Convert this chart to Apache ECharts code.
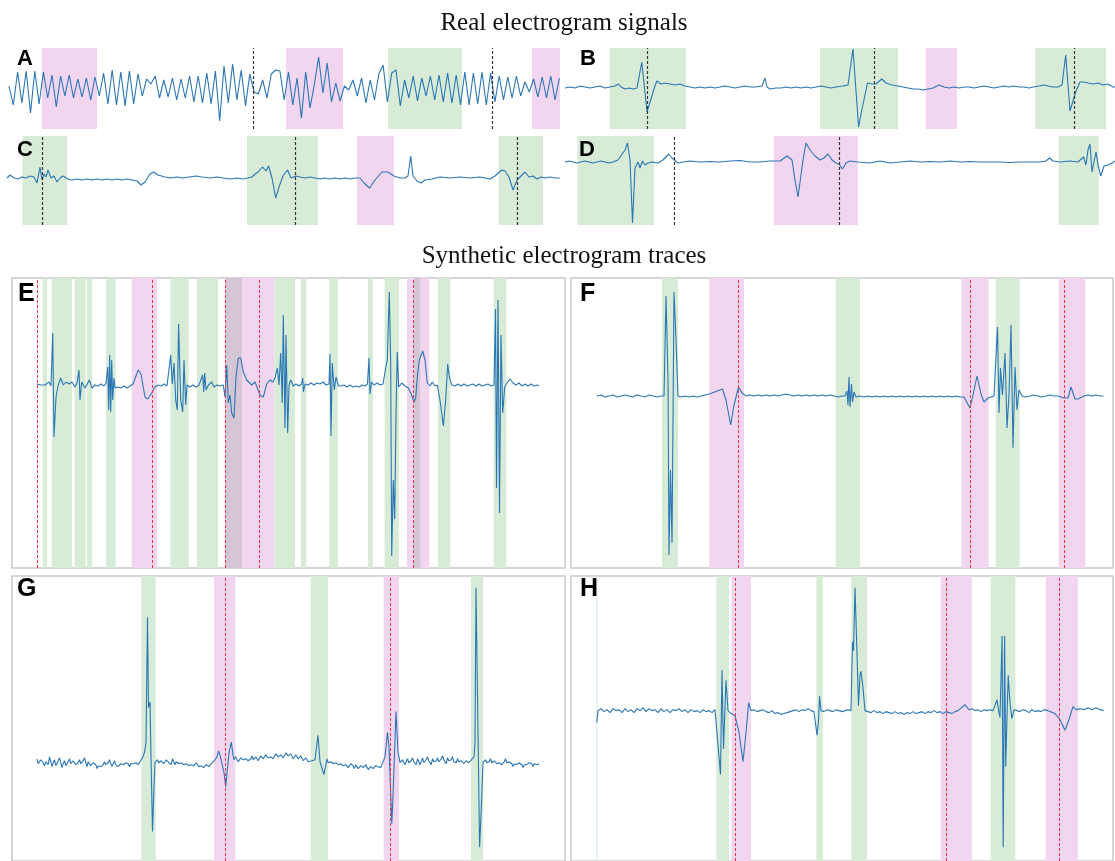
<!DOCTYPE html>
<html><head><meta charset="utf-8">
<script src="https://cdn.jsdelivr.net/npm/echarts/dist/echarts.min.js"></script>
<style>html,body{margin:0;padding:0;background:#fff}#c{width:1115px;height:861px}</style>
</head><body><div id="c"></div>
<script>
// ---------- DATA (time offsets in samples, amplitude in arbitrary units) ----------
const titleTop = 'Real electrogram signals';
const titleBottom = 'Synthetic electrogram traces';
const panelLetters = ['A','B','C','D','E','F','G','H'];

// Panel A: uniformly sampled extrema
const sigAStart = 1, sigAStep = 4.3;
const sigA = [2,-17,16,-15,17,-25,17,-16,16,-10,13,-19,12,-8,13,-10,9,-9,10,-12,11,-8,
 15,-16,18,-17,16,-18,17,-16,14,-8,9,4,12,-10,8,-9,10,-12,9,-10,12,-14,12,-15,15,-16,17,-33,
 22,-15,24,-12,18,-18,14,-4,-6,8,-10,14,18,17,-12,16,-17,10,-30,16,-20,3,31,-5,25,-14,5,-13,
 2,-2,8,-8,10,-15,8,-12,14,23,-14,15,18,-18,8,-10,12,-13,10,-8,12,-12,13,-14,15,-15,13,-17,
 16,-17,15,-16,16,-17,15,-14,12,-12,11,-10,12,-8,6,-4,9,-9,11,-10,12,-12,10];
const bandsA_green = [[380,454]];
const bandsA_pink = [[34,89],[278,335],[524,552]];
const dashA = [245.6,484];

const sigB = [[2,-1],[7,0],[12,-1],[17,1],[22,0],[27,-1],[32,0],[37,1],[42,-1],[47,0],[52,1],[55.6,3],[58,0],[62,-2],[66,-1],[70,-2],[74,-1],[76,1],[78.8,25],[84,-25],[88,-12],[90,-5],[93.8,6],[98,3],[102,4],[107,3],[112,2],[117,3],[122,1],[127,0],[132,-1],[137,0],[142,-1],[147,0],[152,-1],[157,0],[162,1],[167,0],[172,-1],[177,0],[182,1],[187,0],[192,0],[199,1],[202,9],[204,0],[207,-2],[209,-3],[213,-1],[218,-1],[223,0],[228,-1],[233,0],[238,-1],[243,0],[248,-1],[253,0],[258,1],[263,0],[268,-1],[273,0],[280,1],[285,2],[290,38],[295.6,-40],[299,-22],[302,-8],[304.5,4],[309,3],[313,3],[318.8,8],[323,4],[329,2],[335,1],[340,0],[345,-1],[350,-2],[355,-2],[360,-3],[365,-2],[370,-1],[376,2],[381,0],[386,-1],[391,0],[396,-1],[401,0],[406,0],[411,-1],[416,0],[421,1],[426,0],[431,-1],[436,0],[441,1],[446,0],[451,1],[456,0],[461,0],[466,-1],[470,0],[476,1],[481,2],[485,1],[490,0],[495,0],[499,2],[502.7,32],[507,-24],[510,-14],[513,-4],[517,5],[521,5],[525,4],[530,3],[535,4],[540,2],[545,3],[550,0],[552,0]];
const bandsB_green = [[46.6,123],[257,335],[472,543]];
const bandsB_pink = [[362.7,394]];
const dashB = [84,311.6,511];

const sigC = [[2,0],[5,3],[9,0],[13,-1],[17,1],[21,0],[25,2],[29,1],[32,-5],[35,11],[37,-2],[39,4],[41,1],[43,8],[46,0],[49,2],[52,-4],[55,0],[58,2],[60,4],[63,-1],[67,-2],[72,-1],[77,-2],[82,-1],[87,-2],[92,-1],[97,-2],[102,-1],[107,-2],[112,-1],[117,-2],[122,-1],[127,-2],[132,-3],[136,-7],[140,-4],[145,4],[148.6,6],[153,3],[160,1],[166,0],[172,1],[178,0],[184,1],[191,2],[197,1],[205,0],[212,1],[218,0],[225,-1],[232,0],[238,-1],[243,0],[247,1],[250,4],[253,6],[257.5,11],[261,7],[263.6,12],[267,0],[270.7,-20],[274,-9],[278,2],[282.5,8],[286,0],[291,2],[295,1],[300,0],[305,1],[310,0],[315,-1],[320,0],[325,-1],[330,0],[335,-1],[340,0],[345,-1],[350,0],[355,0],[359,-5],[364.6,-10],[370,-2],[377,6],[383,6],[389,2],[395,0],[400,0],[403,2],[405.7,22],[408,2],[412,-3],[416,-5],[420,-2],[427,-1],[435,1],[445,0],[455,1],[465,0],[475,1],[485,-1],[490,2],[496.8,8],[500,7],[504,1],[508,-12],[512,-2],[516,2],[520,6],[524,1],[528,2],[532,-1],[536,1],[540,0],[545,1],[550,0],[555,0]];
const bandsC_green = [[17.5,62],[242,313],[493.6,538]];
const bandsC_pink = [[352,389]];
const dashC = [36.8,290.4,512.5];

const sigD = [[2,0],[6,1],[10,0],[14,-1],[18,0],[22,1],[26,0],[30,-1],[34,0],[38,1],[42,0],[46,-1],[50,0],[55,2],[57,1],[59.9,9],[62,12],[64.5,19],[67,2],[69.5,-61],[72,-6],[73,-4],[75,0],[77,-6],[79.5,1],[82,-3],[85,-1],[89,0],[95,-1],[100,2],[105.6,8],[109,4],[115,-1],[120,0],[127,1],[137,0],[147,0.5],[157,0],[167,1],[177,1.5],[187,0],[197,0],[207,1],[217,1],[224,6],[229,2],[232,-18],[235,-35],[238,-13],[240,2],[243,19],[247,12],[252,6],[257,2],[261,4],[265,8],[269,2],[273,-1],[276,-2],[279.5,-7],[283,-1],[287,1],[295,0],[307,-1],[317,1],[327,-1],[337,0],[347,1],[357,0],[367,0.5],[377,0],[387,1],[397,0],[407,0.5],[417,0],[427,0],[437,0],[447,-0.5],[457,0],[467,0],[477,0],[483,1],[486.6,4],[490,1],[497,0],[507,1],[515,0],[520.6,5],[523,-3],[525,12],[527,18],[529,-10],[531,0],[533,10],[535,-3],[537.7,-14],[541,-4],[545,-3],[549,-1],[552,1]];
const bandsD_green = [[14.5,91],[495.6,535.6]];
const bandsD_pink = [[210.6,294.9]];
const dashD = [111.6,276.6];

const sigE = [[25,0],[27,1],[29,-1],[31,1],[33,-1],[35,0],[37,2],[39,-2],[40.7,51],[42,-53],[44,-13],[46.3,-1],[48.7,6],[51.3,-1],[54,2],[57,0],[60,2],[63,-3],[65,1],[67,14],[68,-16],[69.7,2],[73,-4],[77.3,4],[80,-4],[83,-1],[86,-2],[89,0],[92,-2],[94,1],[95.7,17],[96.7,-26],[97.7,29],[98.7,-28],[99.7,24],[100.7,-16],[102,6],[103,-4],[106,-3],[109,-4],[112,-2],[115,-4],[118,-2],[121,0],[124,8],[126.3,14],[129,10],[133,-13],[135.7,-15],[139.7,-9],[143,-3],[146,-1],[149,-2],[152,0],[155,-2],[157,0],[158.7,29],[160.3,0],[162,21],[163.7,-16],[165.3,-26],[166.6,60],[168.7,-16],[170.7,-28],[172,24],[173.7,-21],[175,-1],[178,-3],[181,-1],[184,-3],[187,-1],[189,-2],[190.7,9],[191.7,-8],[192.7,11],[194,-6],[196.5,-1],[199.7,2],[202,-3],[205,-1],[208,-2],[211.3,-1],[213,-13],[214.7,19],[216.3,-19],[218,-11],[219.7,-29],[222,-34],[224,7],[226.3,26],[228.7,26],[231.3,12],[234.7,4],[239.7,-1],[243,2],[248,-11],[251.3,-13],[254.7,0],[258,4],[260.7,2],[263,6],[265.3,16],[267,-1],[268.7,31],[270.3,-19],[271.3,69],[273,-44],[274,49],[275.7,-49],[277,-1],[278.7,4],[281.3,-2],[284,0],[287,-2],[289.5,0],[290.7,6],[291.5,-8],[293,0],[296,-1],[299,1],[302,-1],[305,1],[308,0],[311,2],[314,-1],[317,0],[318,30],[319,-52],[320.3,21],[322.3,-6],[324,7],[326.5,-2],[329,-2],[332,-1],[335,-3],[338,-1],[341,-3],[344,-2],[347,-3],[350,-1],[353,-2],[355.5,0],[357,26],[358,-10],[359.5,2],[362,-1],[365,1],[368,-1],[371,0],[373.7,16],[375.3,24],[377.3,92],[378.7,21],[379.7,-172],[381.3,-96],[382.7,-135],[384,-29],[385.3,32],[386.7,-3],[389.7,1],[393,-2],[396.3,-4],[399.7,-11],[402,-18],[403.7,-14],[405.3,7],[407.3,24],[410.7,33],[413,24],[415.3,1],[418,-2],[420.3,2],[423,-2],[425.3,-1],[428,-16],[431.3,-42],[433.7,-16],[435.7,20],[437.3,7],[439.7,-1],[443,-2],[446,0],[449,-2],[452,0],[455,-2],[458,-1],[461,0],[464,-2],[467,0],[470,-2],[473,-1],[476,0],[479,-2],[482,-1],[483.5,75],[484.5,-104],[486,84],[487.5,-129],[489,49],[490.7,-29],[492.7,-3],[495,1],[498,5],[501,1],[504,-1],[507,1],[510,-2],[513,0],[516,-2],[519,0],[522,-2],[525,-1],[527,-2]];
const bandsE_green = [[30.9,35.1],[39.8,60.1],[62.6,73.7],[75,80.1],[94,103.7],[158.4,176.6],[185,206],[213,230],[262.3,283],[289,294.4],[317.3,325.9],[355.9,360.9],[372.6,386.9],[402,408.7],[425.9,438.4],[481.6,494.4]];
const bandsE_pink = [[119.8,145],[213,262.3],[395,417.3]];
const dashE = [25,140.5,213,247.6,401.6];

const sigF = [[26,0],[30,1],[34,-1],[38,0],[42,1],[46,-1],[50,0],[54,1],[58,0],[62,-1],[66,1],[70,0],[74,-1],[78,1],[82,0],[86,-1],[90,0],[93,0],[95,100],[97,16],[98,-159],[99.5,-74],[101,-147],[102,-24],[103,104],[105,56],[107,0],[110,-1],[114,0],[118,-1],[122,0],[126,-1],[130,0],[134,1],[138,2],[141,3],[146,5],[151.5,7],[155,-4],[159.7,-29],[163,-9],[167.6,9],[171,3],[175,0],[179,1],[183,0],[187,1],[191,0],[195,1],[199,0],[203,1],[207,0],[211,1],[215,2],[219,1],[223,0],[227,1],[231,0],[235,1],[239,0],[243,1],[247,0],[251,1],[255,0],[259,1],[263,0],[267,-1],[271,0],[274,0],[276,5],[277,-9],[278,19],[279,-11],[280.5,12],[281.5,-6],[283,4],[285,-1],[289,0],[293,-1],[297,0],[301,-1],[305,0],[309,-1],[313,0],[317,-1],[321,0],[325,-1],[329,0],[333,-1],[337,0],[341,-1],[345,0],[349,-1],[353,0],[357,-1],[361,0],[365,-1],[369,0],[373,-1],[377,0],[381,-1],[385,0],[389,-1],[393,-1],[395,-2],[399,-12],[402,1],[406,20],[410,2],[413,-6],[417,-2],[423,0],[426.5,69],[428,-17],[429.5,28],[431.5,1],[434,43],[436,-32],[438,1],[440,71],[442,-52],[444,29],[446,-14],[448,6],[451,0],[455,-1],[459,0],[463,1],[467,0],[471,-1],[475,0],[479,1],[483,0],[487,0],[493,-2],[497,-2],[500,9],[504,-3],[507,-3],[509,-1],[513,0],[517,1],[521,0],[525,1],[529,0],[532.6,0]];
const bandsF_green = [[91,107],[264.7,289],[424.7,448.6]];
const bandsF_pink = [[138.3,173],[390.4,417.6],[487.6,514.4]];
const dashF = [167.6,399.7,493.6];

const sigG = [[25,4],[26.2,-1],[27.5,-2],[28.8,3],[30,5],[31.2,0],[32.5,-3],[33.8,1],[35,2],[36.2,-2],[37.5,6],[38.8,1],[40,-4],[41.2,0],[42.5,3],[43.8,-3],[45,-1],[46.2,2],[47.5,5],[48.8,0],[50,-5],[51.2,-1],[52.5,2],[53.8,-3],[55,-2],[56.2,1],[57.5,4],[58.8,-1],[60,-3],[61.2,2],[62.5,1],[63.8,-2],[65,-4],[66.2,0],[67.5,3],[68.8,-1],[70,-2],[71.2,2],[72.5,5],[73.8,0],[75,-4],[76.2,1],[77.5,0],[78.8,-3],[80,-5],[81.2,0],[82.5,2],[83.8,-2],[85,-6],[86.2,-3],[87.5,-1],[88.8,-4],[90,-5],[91.2,-2],[92.5,1],[93.8,-2],[95,-3],[96.2,0],[97.5,3],[98.8,-1],[100,-4],[101.2,-1],[102.5,2],[103.8,-2],[105,-2],[106.2,-4],[107.5,-5],[108.8,-1],[110,1],[111.2,-2],[112.5,-3],[113.8,0],[115,2],[116.2,-1],[117.5,-4],[118.8,-1],[120,1],[121.2,-1],[122.5,-2],[123.8,0],[125,2],[126.2,-2],[127.5,-1],[131,6],[132.6,11],[134,21],[135.5,148],[136.5,56],[138,62],[139,6],[140.5,-70],[142,-24],[143,0],[144.2,-2],[145.5,3],[146.8,0],[148,-1],[149.2,2],[150.5,4],[151.8,-1],[153,0],[154.2,3],[155.5,5],[156.8,0],[158,1],[159.2,-2],[160.5,4],[161.8,1],[163,-2],[164.2,1],[165.5,3],[166.8,-1],[168,-3],[169.2,0],[170.5,2],[171.8,-2],[173,-4],[174.2,-1],[175.5,1],[176.8,-3],[178,-5],[179.2,-2],[180.5,0],[181.8,-3],[183,-4],[184.2,0],[185.5,-1],[186.8,-4],[188,-6],[189.2,-3],[190.5,-2],[191.8,-5],[193,-5],[194.2,-2],[195.5,-1],[196.8,-4],[198,-4],[199.2,-1],[200.5,0],[203,3],[205,6],[206.6,12],[208,8],[210,6],[212,-10],[213.7,-25],[215.5,-5],[217,10],[219.4,21],[221,8],[222,3],[223.5,6],[225,5],[226.2,1],[227.5,2],[228.8,5],[230,6],[231.2,3],[232.5,1],[233.8,4],[235,5],[236.2,2],[237.5,0],[238.8,4],[240,7],[241.2,3],[242.5,2],[243.8,6],[245,6],[246.2,2],[247.5,3],[248.8,7],[250,8],[251.2,4],[252.5,4],[253.8,8],[255,9],[256.2,5],[257.5,3],[258.8,6],[260,7],[261.2,4],[262.5,5],[263.8,9],[265,10],[266.2,6],[267.5,4],[268.8,8],[270,9],[271.2,5],[272.5,6],[273.8,10],[275,11],[276.2,7],[277.5,5],[278.8,9],[280,8],[281.2,4],[282.5,4],[283.8,8],[285,7],[286.2,4],[287.5,3],[288.8,7],[290,6],[291.2,2],[292.5,1],[293.8,5],[295,4],[296.2,1],[297.5,0],[300,2],[303,3],[306,28],[308,1],[312,-12],[315,4],[316.2,0],[317.5,-2],[318.8,1],[320,3],[321.2,-1],[322.5,-3],[323.8,0],[325,1],[326.2,-2],[327.5,-4],[328.8,-1],[330,0],[331.2,-3],[332.5,-5],[333.8,-2],[335,-1],[336.2,-5],[337.5,-4],[338.8,-1],[340,1],[341.2,-3],[342.5,-6],[343.8,-2],[345,-3],[346.2,-6],[347.5,-7],[348.8,-3],[350,-2],[351.2,-5],[352.5,-6],[353.8,-2],[355,-4],[356.2,-7],[357.5,-8],[358.8,-4],[360,-3],[361.2,-6],[362.5,-7],[363.8,-3],[365,-5],[366.2,-4],[367.5,-2],[368.8,-5],[370,-4],[373,6],[375.5,31],[377,16],[379.8,-62],[381,-34],[384,52],[386,11],[388,0],[389.2,-2],[390.5,3],[391.8,1],[393,-2],[394.2,1],[395.5,4],[396.8,0],[398,-1],[399.2,2],[400.5,5],[401.8,1],[403,0],[404.2,-2],[405.5,4],[406.8,1],[408,-2],[409.2,1],[410.5,5],[411.8,0],[413,1],[414.2,3],[415.5,6],[416.8,2],[418,0],[419.2,-2],[420.5,4],[421.8,1],[423,-1],[424.2,2],[425.5,5],[426.8,1],[428,2],[429.2,4],[430.5,7],[431.8,3],[433,1],[434.2,-1],[435.5,5],[436.8,2],[438,0],[439.2,3],[440.5,6],[441.8,1],[443,2],[444.2,0],[445.5,4],[446.8,1],[448,-1],[449.2,2],[450.5,3],[451.8,-1],[453,0],[454.2,2],[455.5,4],[456.8,0],[458,2],[462,6],[463,21],[464,178],[465.5,68],[467.6,-86],[469,-54],[471,0],[472.2,-2],[473.5,3],[474.8,0],[476,-2],[477.2,1],[478.5,4],[479.8,0],[481,-1],[482.2,2],[483.5,3],[484.8,-1],[486,-3],[487.2,0],[488.5,2],[489.8,-2],[491,-1],[492.2,1],[493.5,4],[494.8,0],[496,-2],[497.2,1],[498.5,3],[499.8,-1],[501,-4],[502.2,-1],[503.5,1],[504.8,-2],[506,-3],[507.2,0],[508.5,2],[509.8,-2],[511,-5],[512.2,-2],[513.5,0],[514.8,-2],[516,-3],[517.2,0],[518.5,2],[519.8,-1],[521,-4],[522.2,-1],[523.5,1],[524.8,-2],[526,-3],[527,-1]];
const bandsG_green = [[129.4,143.7],[298.7,315.9],[459,471.2]];
const bandsG_pink = [[202,223.4],[371.6,387]];
const dashG = [213.7,378];

const sigH = [[25.8,-12],[27,0],[30,2],[33,-1],[36,1],[39,-2],[42,2],[45,0],[48,1],[51,-2],[54,2],[57,-1],[60,1],[63,-2],[66,2],[69,0],[72,3],[75,-1],[78,2],[81,0],[84,1],[87,-2],[90,2],[93,-1],[96,1],[99,-2],[102,1],[105,0],[108,2],[111,-1],[114,1],[117,-2],[120,1],[123,-1],[126,0],[129,-2],[132,1],[135,-1],[138,0],[141,-2],[144,1],[146,0],[149.5,-65],[151,41],[152.5,-39],[155,31],[157,0],[160,-3],[164,-5],[168,-22],[172,-52],[175,-22],[177.6,8],[180,0],[183,1],[186,-1],[189,0],[192,1],[195,-1],[198,-2],[201,0],[204,-3],[207,-2],[210,-4],[213,-3],[216,-2],[219,-1],[222,0],[225,1],[228,-1],[231,1],[234,0],[237,2],[240,0],[243,-1],[246,-25],[247.5,-10],[248.5,15],[250,0],[253,-1],[256,1],[259,0],[262,-1],[265,1],[268,0],[271,-1],[274,0],[277,1],[280,0],[281.5,70],[282.5,61],[284,125],[286,58],[287.5,5],[289,37],[290,40],[292,23],[294,0],[297,-1],[300,-2],[303,0],[306,-2],[309,-1],[312,-3],[315,-1],[318,-2],[321,-3],[324,-1],[327,-3],[330,-2],[333,-4],[336,-2],[339,-3],[342,-1],[345,-3],[348,-2],[351,-1],[354,-3],[357,-1],[360,-2],[363,0],[366,-2],[369,-1],[372,-3],[375,-1],[378,-2],[381,-3],[384,-1],[387,0],[389,2],[394,6],[398,1],[401,2],[404,0],[407,1],[410,-1],[413,1],[416,0],[419,1],[422,0],[426,11],[428,-2],[429,-7],[431.1,76],[432.2,-139],[433.6,76],[434.7,-57],[436,-7],[437.2,36],[439,8],[440.8,-8],[443,1],[446,0],[449,-1],[452,1],[455,0],[458,-2],[461,1],[464,-1],[467,0],[470,-1],[473,1],[477,0],[484,-3],[489,-9],[494,-20],[498,-9],[502,4],[505,1],[509,2],[513,1],[517,3],[521,1],[525,3],[529,1],[532.6,0]];
const bandsH_green = [[25.3,26.3],[145.4,158],[245.4,251.9],[280.4,296],[419.7,444.4]];
const bandsH_pink = [[160.4,180],[369.7,400.8],[474.7,506.9]];
const dashH = [164.7,375.4,488];

// ---------- LAYOUT & STYLE ----------
const GREEN = '#d7ebd6';
const PINK = '#f2d6f0';
const BOTH = '#d4c6d4';
const TRACE = '#2a76b5';

const sigAPairs = sigA.map((v, i) => [sigAStart + i * sigAStep, v]);

// split green/pink intervals into non-overlapping coloured segments
function segments(greens, pinks) {
  const pts = [];
  greens.concat(pinks).forEach(b => { pts.push(b[0], b[1]); });
  const u = Array.from(new Set(pts)).sort((a, b) => a - b);
  const inside = (list, x) => list.some(b => x > b[0] && x < b[1]);
  const out = [];
  for (let k = 0; k < u.length - 1; k++) {
    const m = (u[k] + u[k + 1]) / 2;
    const g = inside(greens, m), p = inside(pinks, m);
    if (!g && !p) continue;
    const col = g && p ? BOTH : (g ? GREEN : PINK);
    const last = out[out.length - 1];
    if (last && last.col === col && last.b === u[k]) last.b = u[k + 1];
    else out.push({a: u[k], b: u[k + 1], col: col});
  }
  return out;
}

const panels = [
  {sig: sigAPairs, g: bandsA_green, p: bandsA_pink, d: dashA, grid: {left: 8, top: 48, width: 552, height: 81}, xMax: 552, yMin: -41, yMax: 40, top: true},
  {sig: sigB, g: bandsB_green, p: bandsB_pink, d: dashB, grid: {left: 563, top: 48, width: 552, height: 81}, xMax: 552, yMin: -42, yMax: 39, top: true},
  {sig: sigC, g: bandsC_green, p: bandsC_pink, d: dashC, grid: {left: 5, top: 136, width: 555, height: 89}, xMax: 555, yMin: -47, yMax: 42, top: true},
  {sig: sigD, g: bandsD_green, p: bandsD_pink, d: dashD, grid: {left: 563, top: 136, width: 552, height: 89}, xMax: 552, yMin: -63, yMax: 26, top: true},
  {sig: sigE, g: bandsE_green, p: bandsE_pink, d: dashE, grid: {left: 12, top: 278, width: 553, height: 290}, xMax: 553, yMin: -184, yMax: 106},
  {sig: sigF, g: bandsF_green, p: bandsF_pink, d: dashF, grid: {left: 571, top: 278, width: 542, height: 290}, xMax: 542, yMin: -172, yMax: 118},
  {sig: sigG, g: bandsG_green, p: bandsG_pink, d: dashG, grid: {left: 12, top: 576, width: 553, height: 290}, xMax: 553, yMin: -100, yMax: 190},
  {sig: sigH, g: bandsH_green, p: bandsH_pink, d: dashH, grid: {left: 571, top: 576, width: 542, height: 290}, xMax: 542, yMin: -153, yMax: 137}
];

const letterPos = [[17,48,22],[580,48,22],[17,139,22],[579,139,22],[18,282,25],[580,282,25],[17,577,25],[580,577,25]];

const grids = [], xAxes = [], yAxes = [], series = [];
panels.forEach((pn, i) => {
  const g = Object.assign({containLabel: false}, pn.grid);
  if (!pn.top) { g.show = true; g.borderColor = '#c9c9c9'; g.borderWidth = 1.5; g.backgroundColor = 'transparent'; }
  grids.push(g);
  xAxes.push({type: 'value', gridIndex: i, min: 0, max: pn.xMax, show: false});
  yAxes.push({type: 'value', gridIndex: i, min: pn.yMin, max: pn.yMax, show: false});
  const areas = segments(pn.g, pn.p).map(s => [{xAxis: s.a, itemStyle: {color: s.col, opacity: 1}}, {xAxis: s.b}]);
  const dashStyle = pn.top ? {color: '#333', type: [3,2], width: 1.2} : {color: '#f0343c', type: [3,2], width: 1};
  series.push({
    type: 'line', xAxisIndex: i, yAxisIndex: i, data: pn.sig,
    showSymbol: false, symbol: 'none', silent: true, animation: false, clip: true,
    lineStyle: {width: 1.1, color: TRACE},
    markArea: {silent: true, animation: false, data: areas, label: {show: false}},
    markLine: {
      silent: true, animation: false, symbol: ['none','none'], label: {show: false},
      lineStyle: dashStyle,
      data: pn.d.map(x => ({xAxis: x, lineStyle: dashStyle}))
    }
  });
});

const graphics = [
  {type: 'text', x: 564, y: 23, z: 100, style: {text: titleTop, font: '25px "Liberation Serif"', fill: '#111', textAlign: 'center', textVerticalAlign: 'middle'}},
  {type: 'text', x: 564, y: 256, z: 100, style: {text: titleBottom, font: '25px "Liberation Serif"', fill: '#111', textAlign: 'center', textVerticalAlign: 'middle'}}
];
panelLetters.forEach((L, i) => {
  const p = letterPos[i];
  graphics.push({type: 'text', x: p[0], y: p[1], z: 100, style: {text: L, font: 'bold ' + p[2] + 'px "Liberation Sans"', fill: '#000', textAlign: 'left', textVerticalAlign: 'top'}});
});

const chart = echarts.init(document.getElementById('c'), null, {renderer: 'canvas'});
chart.setOption({
  animation: false,
  backgroundColor: '#fff',
  grid: grids, xAxis: xAxes, yAxis: yAxes, series: series, graphic: graphics
});
</script></body></html>
